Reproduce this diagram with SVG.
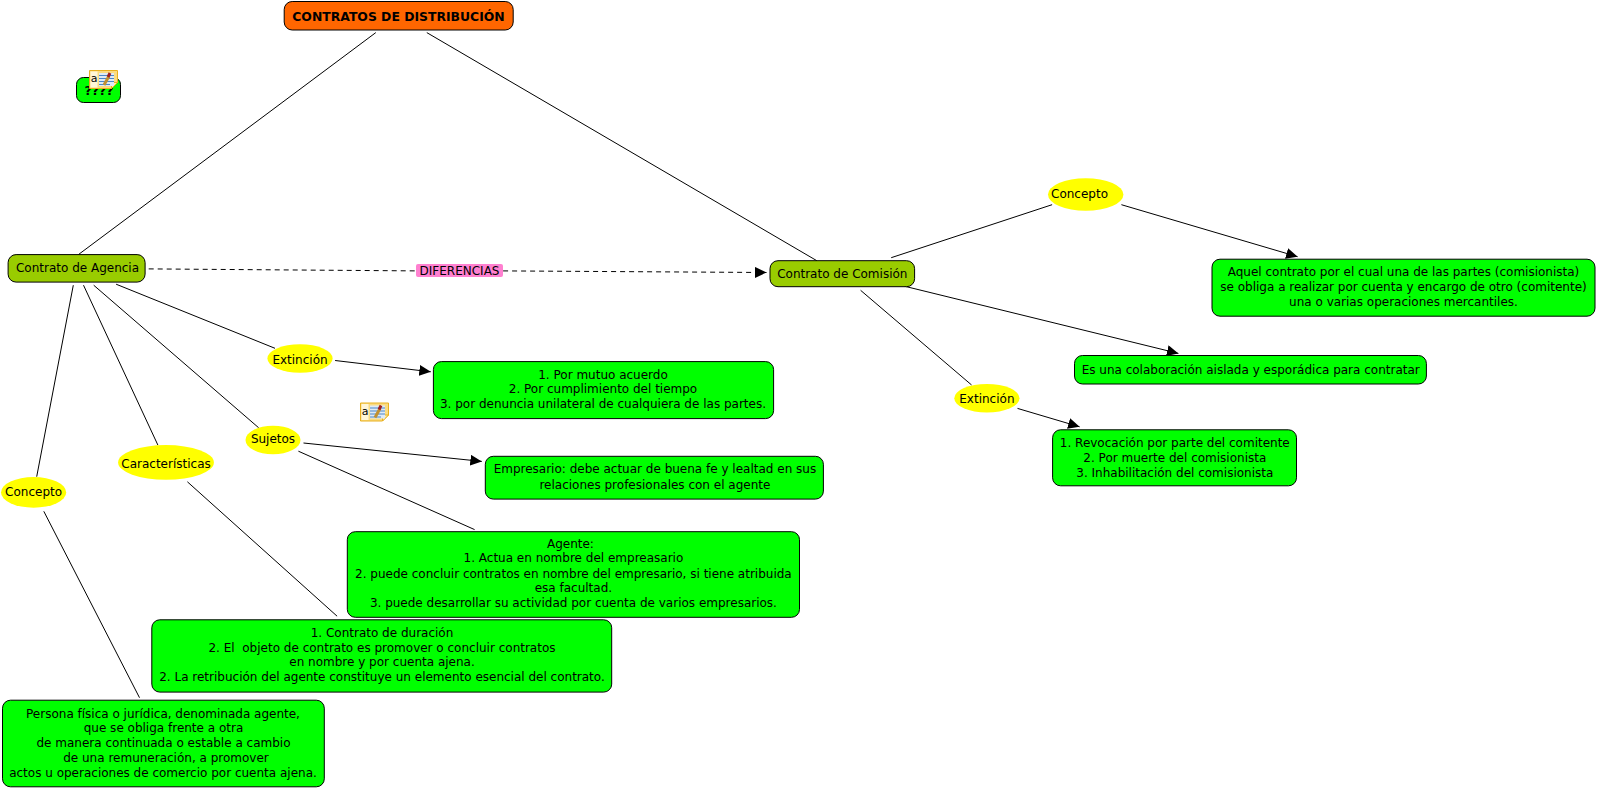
<svg xmlns="http://www.w3.org/2000/svg" width="1597" height="788" viewBox="0 0 1597 788">
<style>
text{font-family:"DejaVu Sans",sans-serif;font-size:12px;fill:#000;text-anchor:middle;white-space:pre}
.c{fill:#00ff00;stroke:#000;stroke-width:1}
.o{fill:#99cc00;stroke:#000;stroke-width:1}
.y{fill:#ffff00;stroke:none}
.l{fill:none;stroke:#000;stroke-width:1}
.d{stroke-dasharray:5 4}
</style>
<defs>
<marker id="a" markerWidth="13" markerHeight="12" refX="11.500" refY="5.500" orient="auto" markerUnits="userSpaceOnUse"><path d="M0 0L11.500 5.500L0 11Z" fill="#000"/></marker>
<symbol id="ic" width="29" height="19" viewBox="0 0 29 19" overflow="visible">
<path d="M0.500 0.500H28.500V12.500L22.500 18.500H0.500Z" fill="#fbdc80" stroke="#e8b020"/>
<path d="M22.500 18.500V12.500H28.500Z" fill="#fff2b0" stroke="#e8b020"/>
<rect x="1.500" y="1.500" width="7" height="16" fill="#fff6d8"/>
<rect x="10" y="3" width="15" height="13" fill="#dfeaf5"/>
<text x="5" y="12" style="font-size:11px">a</text>
<path d="M10 5.500H25M10 8.500H25M10 11.500H25M10 14.500H21" stroke="#4a86c8" stroke-width="1.200" fill="none"/>
<path d="M15 15L20 6" stroke="#c09030" stroke-width="3" fill="none"/>
<path d="M19 7L21 3" stroke="#a02020" stroke-width="3" fill="none"/>
</symbol>
</defs>
<g id="connectors">
<path class="l" d="M375.800 32.600L78.400 254.600"/>
<path class="l" d="M426.800 32.600L816.800 260.700"/>
<path class="l d" d="M148.700 268.900L416.600 270.900"/>
<path class="l d" d="M503.100 270.900L766.500 272.500" marker-end="url(#a)"/>
<path class="l" d="M891.200 257.700L1052.100 204.700"/>
<path class="l" d="M1121.400 204.700L1297.600 256.700" marker-end="url(#a)"/>
<path class="l" d="M904.400 286.200L1178.400 353.400" marker-end="url(#a)"/>
<path class="l" d="M860.600 290.300L971.600 385"/>
<path class="l" d="M1017.500 408.400L1079.600 426.800" marker-end="url(#a)"/>
<path class="l" d="M116.100 284.200L275 348.300"/>
<path class="l" d="M335.100 360.500L430.800 371.800" marker-end="url(#a)"/>
<path class="l" d="M93.700 285.200L258.700 427.800"/>
<path class="l" d="M303.500 443L481.800 461.400" marker-end="url(#a)"/>
<path class="l" d="M298.400 451.200L474.600 529.600"/>
<path class="l" d="M83.500 285.200L157.900 445.100"/>
<path class="l" d="M187.400 481.800L337.100 616.200"/>
<path class="l" d="M73.300 285.200L36.700 476.700"/>
<path class="l" d="M43.800 511.300L139.500 697.700"/>
</g>
<g id="n-titulo"><rect x="284.200" y="1.500" width="229" height="28.500" rx="8" fill="#ff6600" stroke="#000"/><text x="398.500" y="21" style="font-weight:bold;font-size:12.400px">CONTRATOS DE DISTRIBUCIÓN</text></g>
<g id="n-preguntas"><rect x="76.500" y="77.500" width="44" height="25" rx="7" class="c"/><text x="99" y="95" style="font-weight:bold;font-size:12.500px">????</text><use href="#ic" x="89" y="70"/></g>
<g id="n-icono"><use href="#ic" x="360" y="402.500"/></g>
<g id="n-agencia"><rect x="8.100" y="254.600" width="137" height="27.500" rx="8" class="o"/><text x="77.500" y="272">Contrato de Agencia</text></g>
<g id="n-comision"><rect x="770" y="260.700" width="144.600" height="26" rx="8" class="o"/><text x="842.300" y="278">Contrato de Comisión</text></g>
<g id="n-dif"><rect x="416" y="264" width="87" height="13" rx="2" fill="#ff80d0"/><text x="459.500" y="274.500">DIFERENCIAS</text></g>
<g id="n-concepto2"><ellipse cx="1085.700" cy="194.500" rx="37.700" ry="16.300" class="y"/><text x="1079.500" y="197.600">Concepto</text></g>
<g id="n-extincion2"><ellipse cx="986.900" cy="398.200" rx="32.600" ry="14.300" class="y"/><text x="986.900" y="403.300">Extinción</text></g>
<g id="n-extincion1"><ellipse cx="300" cy="358.500" rx="32.600" ry="14.300" class="y"/><text x="300" y="363.600">Extinción</text></g>
<g id="n-sujetos"><ellipse cx="273" cy="440" rx="27.500" ry="14.300" class="y"/><text x="273" y="443">Sujetos</text></g>
<g id="n-caract"><ellipse cx="166" cy="462.400" rx="47.900" ry="17.300" class="y"/><text x="166" y="467.500">Características</text></g>
<g id="n-concepto1"><ellipse cx="33.600" cy="492.400" rx="32.600" ry="15.300" class="y"/><text x="33.600" y="496">Concepto</text></g>
<g id="n-t1"><rect x="1212" y="259.200" width="383" height="57" rx="8" class="c"/><text x="1403.500" y="276">Aquel contrato por el cual una de las partes (comisionista)</text><text x="1403.500" y="291.300">se obliga a realizar por cuenta y encargo de otro (comitente)</text><text x="1403.500" y="305.600">una o varias operaciones mercantiles.</text></g>
<g id="n-t2"><rect x="1074.500" y="355.500" width="351.900" height="28.500" rx="8" class="c"/><text x="1250.700" y="373.800">Es una colaboración aislada y esporádica para contratar</text></g>
<g id="n-t3"><rect x="1052.600" y="429.800" width="243.900" height="56" rx="8" class="c"/><text x="1174.800" y="447.100">1. Revocación por parte del comitente</text><text x="1174.800" y="462.400">2. Por muerte del comisionista</text><text x="1174.800" y="476.700">3. Inhabilitación del comisionista</text></g>
<g id="n-t4"><rect x="433.400" y="361.600" width="340.200" height="57" rx="8" class="c"/><text x="603" y="378.900">1. Por mutuo acuerdo</text><text x="603" y="393.100">2. Por cumplimiento del tiempo</text><text x="603" y="408.400">3. por denuncia unilateral de cualquiera de las partes.</text></g>
<g id="n-t5"><rect x="485.300" y="456.300" width="338.100" height="42.800" rx="8" class="c"/><text x="654.900" y="472.600">Empresario: debe actuar de buena fe y lealtad en sus</text><text x="654.900" y="488.900">relaciones profesionales con el agente</text></g>
<g id="n-t6"><rect x="347.300" y="531.700" width="452.200" height="85.600" rx="8" class="c"/><text x="570.400" y="548">Agente:</text><text x="573.400" y="562.200">1. Actua en nombre del empreasario</text><text x="573.400" y="577.500">2. puede concluir contratos en nombre del empresario, si tiene atribuida</text><text x="573.400" y="591.800">esa facultad.</text><text x="573.400" y="607">3. puede desarrollar su actividad por cuenta de varios empresarios.</text></g>
<g id="n-t7"><rect x="151.800" y="619.800" width="459.900" height="72.300" rx="8" class="c"/><text x="382" y="636.600">1. Contrato de duración</text><text x="382" y="651.800">2. El  objeto de contrato es promover o concluir contratos</text><text x="382" y="666.100">en nombre y por cuenta ajena.</text><text x="382" y="681.400">2. La retribución del agente constituye un elemento esencial del contrato.</text></g>
<g id="n-t8"><rect x="2.500" y="700.200" width="321.800" height="86.600" rx="8" class="c"/><text x="163" y="718">Persona física o jurídica, denominada agente,</text><text x="163.500" y="732.300">que se obliga frente a otra</text><text x="163.500" y="746.600">de manera continuada o estable a cambio</text><text x="166" y="761.800">de una remuneración, a promover</text><text x="163" y="777.100">actos u operaciones de comercio por cuenta ajena.</text></g>
</svg>
